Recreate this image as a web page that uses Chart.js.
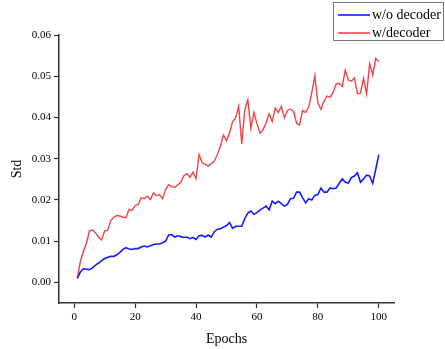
<!DOCTYPE html>
<html><head><meta charset="utf-8">
<script src="https://cdn.jsdelivr.net/npm/chart.js@4"></script>
<style>html,body{margin:0;padding:0;background:#fff}#wrap{width:445px;height:349px}</style>
</head><body><div id="wrap"><canvas id="c" width="445" height="349"></canvas></div>
<script>
const epochs = Array.from({length:100},(_,i)=>i+1);
const woDecoder = [0.0010,0.0025,0.0033,0.0032,0.0031,0.0035,0.0042,0.0047,0.0053,0.0058,
0.0061,0.0063,0.0063,0.0067,0.0073,0.0080,0.0084,0.0081,0.0080,0.0082,
0.0082,0.0086,0.0088,0.0086,0.0089,0.0092,0.0093,0.0093,0.0096,0.0100,
0.0115,0.0116,0.0110,0.0113,0.0111,0.0109,0.0110,0.0106,0.0109,0.0104,
0.0113,0.0114,0.0110,0.0115,0.0110,0.0123,0.0129,0.0130,0.0134,0.0138,
0.0145,0.0131,0.0136,0.0136,0.0136,0.0155,0.0168,0.0173,0.0165,0.0169,
0.0176,0.0180,0.0185,0.0176,0.0197,0.0191,0.0197,0.0191,0.0185,0.0189,
0.0203,0.0204,0.0219,0.0219,0.0205,0.0193,0.0203,0.0200,0.0211,0.0213,
0.0229,0.0219,0.0219,0.0229,0.0227,0.0229,0.0240,0.0251,0.0243,0.0241,
0.0254,0.0258,0.0266,0.0243,0.0251,0.0260,0.0258,0.0240,0.0274,0.0310];
const wDecoder = [0.0010,0.0050,0.0075,0.0095,0.0125,0.0127,0.0120,0.0110,0.0103,0.0125,
0.0126,0.0150,0.0158,0.0162,0.0161,0.0158,0.0157,0.0177,0.0175,0.0186,
0.0189,0.0205,0.0203,0.0209,0.0201,0.0217,0.0210,0.0213,0.0203,0.0225,
0.0237,0.0233,0.0230,0.0237,0.0243,0.0259,0.0264,0.0255,0.0267,0.0252,
0.0310,0.0290,0.0286,0.0282,0.0288,0.0294,0.0310,0.0330,0.0357,0.0344,
0.0362,0.0390,0.0399,0.0427,0.0336,0.0419,0.0443,0.0374,0.0412,0.0385,
0.0362,0.0370,0.0387,0.0409,0.0390,0.0423,0.0412,0.0427,0.0399,0.0417,
0.0420,0.0415,0.0386,0.0382,0.0417,0.0412,0.0425,0.0460,0.0501,0.0435,
0.0420,0.0439,0.0452,0.0449,0.0460,0.0481,0.0483,0.0475,0.0515,0.0491,
0.0488,0.0496,0.0457,0.0459,0.0495,0.0457,0.0530,0.0503,0.0543,0.0535];
const xTicks = [0,20,40,60,80,100];
const yTicks = [0,0.01,0.02,0.03,0.04,0.05,0.06];
const seriesLabels = ['w/o decoder','w/decoder'];
const seriesColors = ['#1a1aff','#f04448'];

const FONT = 'Liberation Serif';

const legendPlugin = {
  id:'boxLegend',
  afterDraw(chart){
    const ctx = chart.ctx;
    ctx.save();
    ctx.strokeStyle = '#777';
    ctx.lineWidth = 1;
    ctx.strokeRect(333.5, 2.5, 110, 38);
    chart.data.datasets.forEach((ds,i)=>{
      const y = 15 + i*18;
      ctx.strokeStyle = ds.borderColor;
      ctx.lineWidth = 1.6;
      ctx.beginPath(); ctx.moveTo(338,y); ctx.lineTo(370,y); ctx.stroke();
      ctx.fillStyle = '#000';
      ctx.font = '14px "' + FONT + '"';
      ctx.textBaseline = 'middle';
      ctx.textAlign = 'left';
      ctx.fillText(ds.label, 372, y);
    });
    ctx.restore();
  }
};

new Chart(document.getElementById('c'), {
  type:'line',
  data:{
    datasets:[
      {label:seriesLabels[0], data:epochs.map((e,i)=>({x:e,y:woDecoder[i]})), borderColor:seriesColors[0], borderWidth:1.6, pointRadius:0, tension:0, fill:false},
      {label:seriesLabels[1], data:epochs.map((e,i)=>({x:e,y:wDecoder[i]})), borderColor:seriesColors[1], borderWidth:1.4, pointRadius:0, tension:0, fill:false}
    ]
  },
  options:{
    responsive:false, animation:false, devicePixelRatio:1,
    layout:{padding:{top:35,right:51,left:0,bottom:0}},
    plugins:{legend:{display:false}, tooltip:{enabled:false}},
    scales:{
      x:{type:'linear', min:-5, max:105,
        afterBuildTicks(s){ s.ticks = xTicks.map(v=>({value:v})); },
        afterFit(s){ s.height = 46; },
        ticks:{font:{family:FONT,size:11}, color:'#000', padding:3, maxRotation:0},
        grid:{drawOnChartArea:false, drawTicks:true, tickLength:5, color:'#333', tickWidth:1.2},
        border:{display:true, color:'#333', width:1.5},
        title:{display:true, text:'Epochs', font:{family:FONT,size:14}, color:'#000', padding:{top:0,bottom:1}}
      },
      y:{type:'linear', min:-0.005, max:0.06,
        afterBuildTicks(s){ s.ticks = yTicks.map(v=>({value:v})); },
        afterFit(s){ s.width = 59; },
        ticks:{font:{family:FONT,size:11}, color:'#000', padding:3, callback:v=>Number(v).toFixed(2)},
        grid:{drawOnChartArea:false, drawTicks:true, tickLength:5, color:'#333', tickWidth:1.2},
        border:{display:true, color:'#333', width:1.5},
        title:{display:true, text:'Std', font:{family:FONT,size:14}, color:'#000', padding:{top:9,bottom:0}}
      }
    }
  },
  plugins:[legendPlugin]
});
</script></body></html>
